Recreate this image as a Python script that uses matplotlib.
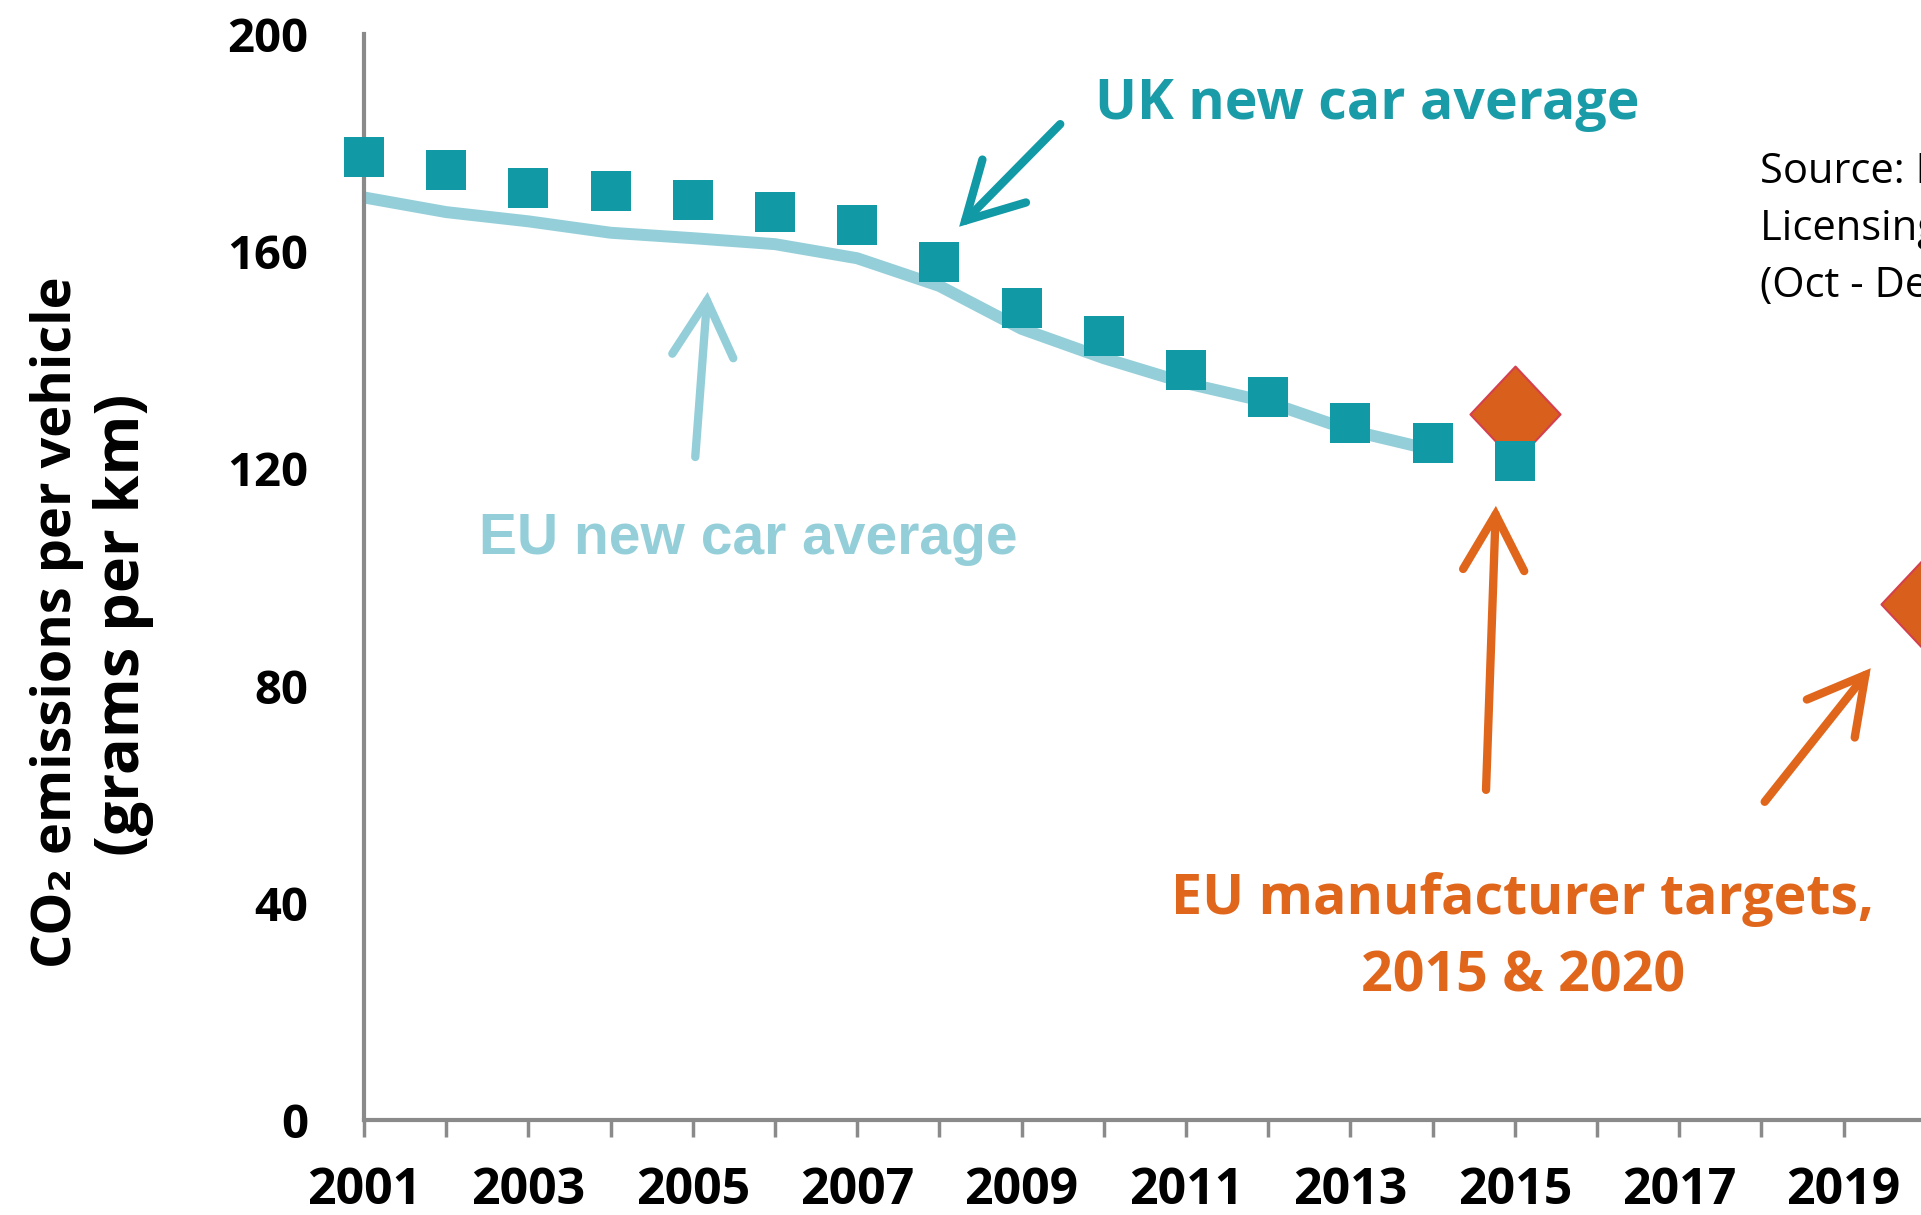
import matplotlib
matplotlib.use("Agg")
import matplotlib.pyplot as plt
from matplotlib.path import Path

# ---- data ----
uk_years = [2001, 2002, 2003, 2004, 2005, 2006, 2007, 2008, 2009, 2010, 2011, 2012, 2013, 2014, 2015]
uk_avg = [177.3, 174.9, 171.6, 171.1, 169.5, 167.2, 164.8, 158.0, 149.5, 144.3, 138.1, 133.1, 128.3, 124.6, 121.4]
eu_years = [2001, 2002, 2003, 2004, 2005, 2006, 2007, 2008, 2009, 2010, 2011, 2012, 2013, 2014]
eu_avg = [169.9, 167.2, 165.5, 163.4, 162.4, 161.3, 158.7, 153.6, 145.7, 140.3, 135.7, 132.2, 127.0, 123.4]
target_years = [2015, 2020]
targets = [130, 95]
xtick_years = list(range(2001, 2022))
xlabel_years = [2001, 2003, 2005, 2007, 2009, 2011, 2013, 2015, 2017, 2019, 2021]
yticks = [0, 40, 80, 120, 160, 200]
source_lines = ["Source: Driver and Vehicle", "Licensing Agency", "(Oct - Dec 2015)"]

TEAL = "#1299a6"
TEAL_TXT = "#1a9ba8"
LIGHT = "#94cfd9"
ORANGE = "#e0661c"
DIAMOND = "#d9601c"
DIAMOND_EDGE = "#d4404e"
AXIS = "#8a8a8a"

W, H = 1921, 1215
fig = plt.figure(figsize=(W / 100, H / 100), dpi=100)
x0 = 364 / W
yr_px = 82.2
ax = fig.add_axes([x0, (H - 1120) / H, 20 * yr_px / W, (1120 - 34) / H])
ax.set_xlim(2001, 2021)
ax.set_ylim(0, 200)

for s in ["top", "right"]:
    ax.spines[s].set_visible(False)
for s in ["left", "bottom"]:
    ax.spines[s].set_color(AXIS)
    ax.spines[s].set_linewidth(3)

ax.set_xticks(xtick_years)
ax.set_xticklabels([str(y) if y in xlabel_years else "" for y in xtick_years])
ax.set_yticks(yticks)
ax.set_yticklabels([str(v) for v in yticks])
ax.tick_params(axis="x", direction="out", length=12, width=2.5, color=AXIS, pad=21,
               labelsize=36)
ax.tick_params(axis="y", length=0, pad=40, labelsize=34)
for lab in ax.get_xticklabels() + ax.get_yticklabels():
    lab.set_fontfamily("Open Sans")
    lab.set_fontweight("bold")
    lab.set_color("black")

# EU line
ax.plot(eu_years, eu_avg, color=LIGHT, lw=8.6, solid_capstyle="butt",
        solid_joinstyle="round", zorder=2, clip_on=False)

# target diamonds
dpath = Path([(0, 0.5), (0.47, 0), (0, -0.5), (-0.47, 0), (0, 0.5)],
             [Path.MOVETO, Path.LINETO, Path.LINETO, Path.LINETO, Path.CLOSEPOLY])
ax.plot(target_years, targets, linestyle="none", marker=dpath, markersize=69,
        markerfacecolor=DIAMOND, markeredgecolor=DIAMOND_EDGE, markeredgewidth=1.5,
        zorder=3, clip_on=False)

# UK squares
ax.plot(uk_years, uk_avg, linestyle="none", marker="s", markersize=29.5,
        markerfacecolor=TEAL, markeredgewidth=0, zorder=4, clip_on=False)

# arrows
def arrow(tail, tip, color):
    ax.annotate("", xy=tip, xytext=tail, xycoords="data", textcoords="data",
                arrowprops=dict(arrowstyle="->, head_length=0.40, head_width=0.22",
                                mutation_scale=100, color=color, lw=6,
                                shrinkA=0, shrinkB=0, capstyle="round",
                                joinstyle="miter"),
                annotation_clip=False, zorder=5)

arrow((2009.47, 183.4), (2008.24, 164.5), TEAL)
arrow((2005.03, 122.1), (2005.18, 152.5), LIGHT)
arrow((2014.65, 60.8), (2014.77, 113.1), ORANGE)
arrow((2018.04, 58.6), (2019.33, 83.2), ORANGE)

# annotation texts
ax.text(2013.21, 184.4, "UK new car average", color=TEAL_TXT, fontsize=40,
        fontfamily="Open Sans", fontweight="bold", ha="center", va="baseline")
ax.text(2005.68, 104.2, "EU new car average", color=LIGHT, fontsize=41,
        fontfamily="Liberation Sans", fontweight="bold", ha="center", va="baseline")
ax.text(2015.1, 38.0, "EU manufacturer targets,", color=ORANGE, fontsize=40,
        fontfamily="Open Sans", fontweight="bold", ha="center", va="baseline")
ax.text(2015.1, 23.6, "2015 & 2020", color=ORANGE, fontsize=40,
        fontfamily="Open Sans", fontweight="bold", ha="center", va="baseline")

src_y = [172.6, 162.1, 151.6]
for line, yv in zip(source_lines, src_y):
    ax.text(2017.98, yv, line, color="black", fontsize=30, fontfamily="Open Sans",
            ha="left", va="baseline", clip_on=False)

# y-axis label (two lines)
fig.text(57 / W, 1 - 622 / H, "CO\u2082 emissions per vehicle", rotation=90,
         ha="center", va="center", fontsize=39, fontweight="bold",
         family=["Open Sans", "DejaVu Sans"], color="black")
fig.text(124 / W, 1 - 625 / H, "(grams per km)", rotation=90,
         ha="center", va="center", fontsize=44, fontweight="bold",
         family=["Open Sans", "DejaVu Sans"], color="black")

fig.savefig("out.png", dpi=100)
